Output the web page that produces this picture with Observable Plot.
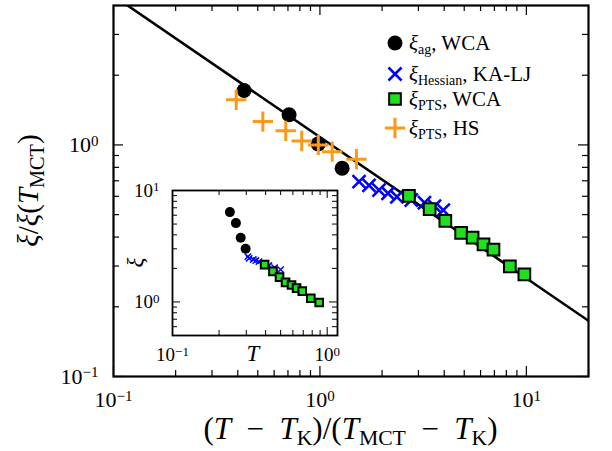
<!DOCTYPE html>
<html><head><meta charset="utf-8">
<script src="https://cdn.jsdelivr.net/npm/d3@7"></script>
<script src="https://cdn.jsdelivr.net/npm/@observablehq/plot@0.6"></script>
<style>
body{margin:0;background:#fff;}
#chart{position:relative;width:612px;height:451px;}
#inset{position:absolute;left:127px;top:180px;}
svg{overflow:visible;}
</style></head><body><div id="chart"><div id="main"></div><div id="inset"></div></div>
<script>
// ---- main panel data: xi/xi(T_MCT) vs (T-T_K)/(T_MCT-T_K)
const agX  = [0.429, 0.709, 0.981, 1.281];
const agY  = [1.718, 1.349, 1.010, 0.793];
const hesX = [1.547, 1.729, 1.932, 2.136, 2.36, 2.77, 3.21, 3.59, 3.96];
const hesY = [0.694, 0.669, 0.638, 0.618, 0.597, 0.578, 0.563, 0.544, 0.523];
const ptsWX = [2.70, 3.40, 4.05, 4.83, 5.49, 6.20, 6.93, 8.32, 9.78];
const ptsWY = [0.603, 0.528, 0.470, 0.417, 0.398, 0.372, 0.353, 0.299, 0.276];
const ptsHX = [0.393, 0.529, 0.683, 0.816, 0.982, 1.146, 1.503];
const ptsHY = [1.566, 1.261, 1.150, 1.040, 1.000, 0.935, 0.867];
const fitX = [0.117, 20];
const fitY = [4.0, 0.174];
// ---- inset data: xi vs T
const inAgT  = [0.235, 0.257, 0.276, 0.297];
const inAgXi = [6.4, 5.1, 3.77, 3.0];
const inHesT  = [0.307, 0.313, 0.333, 0.346, 0.362, 0.390, 0.420, 0.457, 0.500];
const inHesXi = [2.55, 2.46, 2.40, 2.35, 2.30, 2.21, 2.12, 2.03, 1.95];
const inPtsT  = [0.394, 0.446, 0.492, 0.538, 0.588, 0.634, 0.690, 0.784, 0.888];
const inPtsXi = [2.16, 1.88, 1.67, 1.50, 1.42, 1.33, 1.25, 1.08, 0.99];
// ---- ticks
const xMajor = [0.1, 1, 10];
const xMinor = [0.2,0.3,0.4,0.5,0.6,0.7,0.8,0.9,2,3,4,5,6,7,8,9,20];
const yMajor = [0.1, 1];
const yMinor = [0.2,0.3,0.4,0.5,0.6,0.7,0.8,0.9,2,3,4];
const inXMajor = [0.1, 1];
const inXMinor = [0.2,0.3,0.4,0.5,0.6,0.7,0.8,0.9];
const inYMajor = [1, 10];
const inYMinor = [0.5,0.6,0.7,0.8,0.9,2,3,4,5,6,7,8,9];
const legendLabels = [["ag", ", WCA"], ["Hessian", ", KA-LJ"], ["PTS", ", WCA"], ["PTS", ", HS"]];

const col = {ag:"black", hes:"#0000ff", pts:"#1ee01e", hs:"#fb9a1a"};
const zip = (xs, ys) => xs.map((x,i) => ({x, y: ys[i]}));
const FONT = "'Liberation Serif', 'DejaVu Serif', serif";
const expFmt = d => String(Math.round(Math.log10(d)));

function ticks4(xMaj, xMin, yMaj, yMin, iw, ih, big, small, sw) {
  const m = [];
  for (const [data, len] of [[xMaj, big], [xMin, small]]) {
    m.push(Plot.tickX(data, {x: d=>d, insetTop: ih-len, stroke:"black", strokeWidth:sw}));
    m.push(Plot.tickX(data, {x: d=>d, insetBottom: ih-len, stroke:"black", strokeWidth:sw}));
  }
  for (const [data, len] of [[yMaj, big], [yMin, small]]) {
    m.push(Plot.tickY(data, {y: d=>d, insetRight: iw-len, stroke:"black", strokeWidth:sw}));
    m.push(Plot.tickY(data, {y: d=>d, insetLeft: iw-len, stroke:"black", strokeWidth:sw}));
  }
  return m;
}

function supify(svg, supSize) {
  d3.select(svg).selectAll('g[aria-label="x-axis tick label"] text, g[aria-label="y-axis tick label"] text').each(function() {
    const t = d3.select(this);
    const e = t.text().replace("-", "\u2212");
    t.text(null);
    t.append("tspan").text("10");
    t.append("tspan").attr("dy", "-0.42em").attr("font-size", supSize).text(e);
  });
}

// segments: [text, kind] kind: "i" italic, "s" subscript, "" roman
function richText(t, segs, size, shift) {
  let lowered = false;
  const sh = size * shift;
  for (const [txt, kind] of segs) {
    const sp = t.append("tspan").text(txt);
    if (kind === "s") {
      sp.attr("font-size", size * 0.7);
      if (!lowered) { sp.attr("dy", sh); lowered = true; }
    } else {
      if (lowered) { sp.attr("dy", -sh); lowered = false; }
      if (kind === "i") sp.attr("font-style", "italic");
    }
  }
}

// ---------------- main panel ----------------
const W = 612, H = 451, mL = 113, mR = 24, mT = 5, mB = 75;
const iw = W - mL - mR, ih = H - mT - mB;
const main = Plot.plot({
  width: W, height: H, marginLeft: mL, marginRight: mR, marginTop: mT, marginBottom: mB,
  x: {type: "log", domain: [0.1, 20]},
  y: {type: "log", domain: [0.1, 4]},
  style: {fontFamily: FONT, fontSize: "22px", color: "black", background: "white"},
  marks: [
    Plot.axisX(xMajor, {tickSize: 0, tickPadding: 15, tickFormat: expFmt, label: null}),
    Plot.axisY(yMajor, {tickSize: 0, tickPadding: 15, tickFormat: expFmt, label: null}),
    ...ticks4(xMajor, xMinor, yMajor, yMinor, iw, ih, 10, 6, 1.2),
    Plot.line(zip(fitX, fitY), {x: "x", y: "y", stroke: "black", strokeWidth: 2.6, clip: true}),
    Plot.dot(zip(agX, agY), {x: "x", y: "y", r: 7.5, fill: col.ag}),
    Plot.dot(zip(hesX, hesY), {x: "x", y: "y", symbol: "times", r: 6, stroke: col.hes, strokeWidth: 2.6}),
    Plot.dot(zip(ptsWX, ptsWY), {x: "x", y: "y", symbol: "square", r: 6.6, fill: col.pts, stroke: "black", strokeWidth: 2}),
    Plot.dot(zip(ptsHX, ptsHY), {x: "x", y: "y", symbol: "plus", r: 6.6, stroke: col.hs, strokeWidth: 3}),
    Plot.frame({stroke: "black", strokeWidth: 2.2})
  ]
});
supify(main, "15px");
document.getElementById("main").appendChild(main);

const ms = d3.select(main);
// axis titles
const xl = ms.append("text").attr("x", mL + iw/2).attr("y", 439).attr("text-anchor", "middle")
  .attr("font-family", FONT).attr("font-size", 31).attr("fill", "black");
richText(xl, [["(", ""], ["T", "i"], ["\u2002\u2212\u2002", ""], ["T", "i"], ["K", "s"], [")/(", ""], ["T", "i"], ["MCT", "s"],
              ["\u2002\u2212\u2002", ""], ["T", "i"], ["K", "s"], [")", ""]], 31, 0.18);

const yl = ms.append("text").attr("transform", `translate(38,${mT + ih/2}) rotate(-90)`).attr("text-anchor", "middle")
  .attr("font-family", FONT).attr("font-size", 29).attr("fill", "black");
richText(yl, [["\u03be", "i"], ["/", ""], ["\u03be", "i"], ["(", ""], ["T", "i"], ["MCT", "s"], [")", ""]], 29, 0.22);

// legend
const lg = ms.append("g").attr("font-family", FONT).attr("font-size", 21).attr("fill", "black").attr("text-anchor", "start");
const ly = [43, 74, 99, 128], lx = 395;
lg.append("circle").attr("cx", lx).attr("cy", ly[0]).attr("r", 7.5).attr("fill", col.ag);
lg.append("path").attr("transform", `translate(${lx},${ly[1]})`).attr("d", d3.symbol(d3.symbolTimes, Math.PI*36)()).attr("stroke", col.hes).attr("stroke-width", 2.6).attr("fill", "none");
lg.append("path").attr("transform", `translate(${lx},${ly[2]})`).attr("d", d3.symbol(d3.symbolSquare, Math.PI*6.6*6.6)()).attr("stroke", "black").attr("stroke-width", 2).attr("fill", col.pts);
lg.append("path").attr("transform", `translate(${lx},${ly[3]})`).attr("d", d3.symbol(d3.symbolPlus, Math.PI*6.6*6.6)()).attr("stroke", col.hs).attr("stroke-width", 3).attr("fill", "none");
legendLabels.forEach(([sub, rest], i) => {
  const t = lg.append("text").attr("x", lx + 14).attr("y", ly[i] + 7).attr("text-anchor", "start");
  t.append("tspan").attr("font-style", "italic").text("\u03be");
  t.append("tspan").attr("dy", 4).attr("font-size", 14).text(sub);
  t.append("tspan").attr("dy", -4).text(rest);
});

// ---------------- inset ----------------
const iW = 215, iH = 185, imL = 45, imR = 5, imT = 10, imB = 30;
const iiw = iW - imL - imR, iih = iH - imT - imB;
const inset = Plot.plot({
  width: iW, height: iH, marginLeft: imL, marginRight: imR, marginTop: imT, marginBottom: imB,
  x: {type: "log", domain: [0.1, 1.166]},
  y: {type: "log", domain: [0.5, 10]},
  style: {fontFamily: FONT, fontSize: "19px", color: "black", background: "white"},
  marks: [
    Plot.axisX(inXMajor, {tickSize: 0, tickPadding: 12, tickFormat: expFmt, label: null}),
    Plot.axisY(inYMajor, {tickSize: 0, tickPadding: 13, tickFormat: expFmt, label: null}),
    ...ticks4(inXMajor, inXMinor, inYMajor, inYMinor, iiw, iih, 8, 5, 1),
    Plot.dot(zip(inAgT, inAgXi), {x: "x", y: "y", r: 5, fill: col.ag}),
    Plot.dot(zip(inHesT, inHesXi), {x: "x", y: "y", symbol: "times", r: 3, stroke: col.hes, strokeWidth: 1.5}),
    Plot.dot(zip(inPtsT, inPtsXi), {x: "x", y: "y", symbol: "square", r: 4.3, fill: col.pts, stroke: "black", strokeWidth: 2}),
    Plot.frame({stroke: "black", strokeWidth: 1.8})
  ]
});
supify(inset, "13px");
document.getElementById("inset").appendChild(inset);
const is = d3.select(inset);
is.append("text").attr("x", 126).attr("y", 181).attr("text-anchor", "middle")
  .attr("font-family", FONT).attr("font-size", 23).attr("font-style", "italic").attr("fill", "black").text("T");
is.append("text").attr("transform", `translate(16,${imT + iih/2}) rotate(-90)`).attr("text-anchor", "middle")
  .attr("font-family", FONT).attr("font-size", 23).attr("font-style", "italic").attr("fill", "black").text("\u03be");
</script></body></html>
